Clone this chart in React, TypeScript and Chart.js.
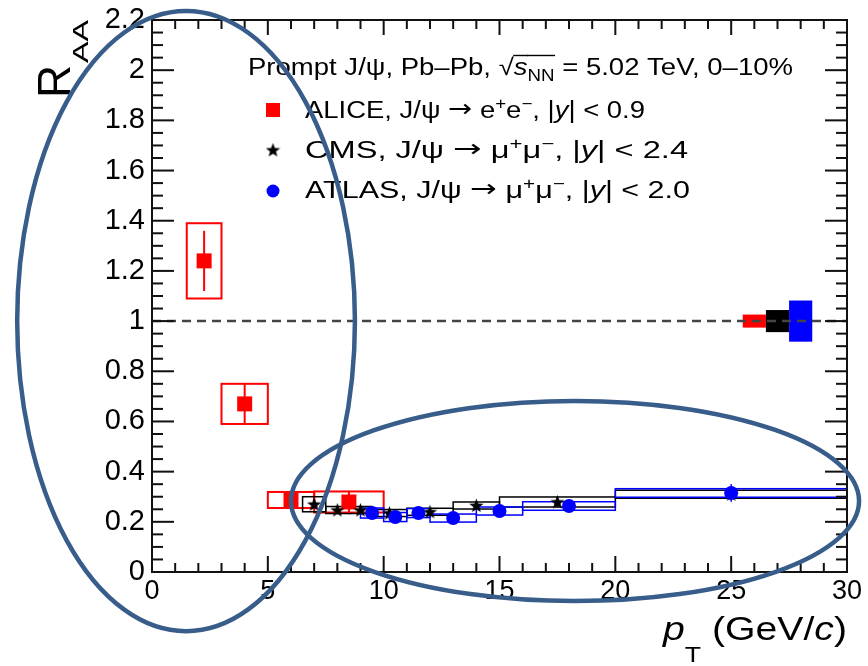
import React, { useEffect, useRef } from "react";
import { Chart, registerables } from "chart.js";

Chart.register(...registerables);

const FONT = '"Liberation Sans", Arial, Helvetica, sans-serif';

// ---------------- data ----------------
// ALICE, J/psi -> e+e-, |y| < 0.9
const aliceX = [2.25, 4.0, 6.0, 8.5];
const aliceY = [1.24, 0.67, 0.287, 0.279];
const aliceStat = [0.12, 0.08, 0.015, 0.045];
const aliceBinLo = [1.5, 3, 5, 7];
const aliceBinHi = [3, 5, 7, 10];
const aliceSys = [0.15, 0.08, 0.032, 0.042];

// CMS, J/psi -> mu+mu-, |y| < 2.4
const cmsX = [7, 8, 9, 10.25, 12, 14, 17.5, 25];
const cmsY = [0.27, 0.247, 0.247, 0.235, 0.24, 0.265, 0.279, 0.31];
const cmsStat = [0.012, 0.01, 0.01, 0.01, 0.01, 0.015, 0.022, 0.02];
const cmsBinLo = [6.5, 7.5, 8.5, 9.5, 11, 13, 15, 20];
const cmsBinHi = [7.5, 8.5, 9.5, 11, 13, 15, 20, 30];
const cmsSys = [0.03, 0.014, 0.014, 0.014, 0.014, 0.014, 0.02, 0.016];

// ATLAS, J/psi -> mu+mu-, |y| < 2.0
const atlasX = [9.5, 10.5, 11.5, 13, 15, 18, 25];
const atlasY = [0.235, 0.219, 0.235, 0.215, 0.243, 0.263, 0.315];
const atlasStat = [0.012, 0.01, 0.01, 0.01, 0.012, 0.015, 0.035];
const atlasBinLo = [9, 10, 11, 12, 14, 16, 20];
const atlasBinHi = [10, 11, 12, 14, 16, 20, 30];
const atlasSys = [0.02, 0.018, 0.018, 0.016, 0.016, 0.017, 0.017];

// global (normalisation) uncertainties around unity
const globalLo = [25.5, 26.5, 27.5];
const globalHi = [26.5, 27.5, 28.5];
const globalHalf = [0.026, 0.044, 0.082];
const globalColors = ["#ff0000", "#000000", "#0000ff"];

// reference line at R_AA = 1
const refLineX = [0, 30];
const refLineY = [1, 1];

// axes
const xTicks = [0, 5, 10, 15, 20, 25, 30];
const xTickLabels = ["0", "5", "10", "15", "20", "25", "30"];
const yTicks = [0, 0.2, 0.4, 0.6, 0.8, 1.0, 1.2, 1.4, 1.6, 1.8, 2.0, 2.2];
const yTickLabels = ["0", "0.2", "0.4", "0.6", "0.8", "1", "1.2", "1.4", "1.6", "1.8", "2", "2.2"];

// annotation ellipses (data coordinates: centre, half-axes)
const ellipseCx = [1.47, 18.26];
const ellipseCy = [1.0, 0.283];
const ellipseRx = [7.29, 12.26];
const ellipseRy = [1.236, 0.399];

// ---------------- helpers ----------------
type Seg = { t: string; it?: boolean; sub?: boolean; sup?: boolean; bar?: boolean; fam?: string; k?: number; dy?: number };

function segFont(s: Seg, size: number) {
  let sz = s.sub || s.sup ? size * 0.68 : size;
  if (s.k) sz *= s.k;
  return `${s.it ? "italic " : ""}${sz}px ${s.fam ?? FONT}`;
}

function measureRich(ctx: CanvasRenderingContext2D, segs: Seg[], size: number) {
  let w = 0;
  for (const s of segs) {
    ctx.font = segFont(s, size);
    w += ctx.measureText(s.t).width;
  }
  return w;
}

function drawRich(
  ctx: CanvasRenderingContext2D,
  segs: Seg[],
  x: number,
  y: number,
  size: number,
  opts: { align?: "left" | "right"; width?: number; subDy?: number; supDy?: number } = {}
) {
  const nat = measureRich(ctx, segs, size);
  const sx = opts.width ? opts.width / nat : 1;
  const total = nat * sx;
  const x0 = opts.align === "right" ? x - total : x;
  ctx.save();
  ctx.translate(x0, y);
  ctx.scale(sx, 1);
  ctx.textAlign = "left";
  ctx.textBaseline = "alphabetic";
  let cx = 0;
  for (const s of segs) {
    ctx.font = segFont(s, size);
    const w = ctx.measureText(s.t).width;
    let dy = s.sub ? opts.subDy ?? size * 0.3 : s.sup ? -(opts.supDy ?? size * 0.4) : 0;
    if (s.dy) dy += s.dy;
    ctx.fillText(s.t, cx, dy);
    if (s.bar) ctx.fillRect(cx - 0.5, -size * 0.86, w + 1, 1.4);
    cx += w;
  }
  ctx.restore();
}

function makeStar(size: number, color: string) {
  const c = document.createElement("canvas");
  c.width = size;
  c.height = size;
  const g = c.getContext("2d")!;
  g.fillStyle = color;
  g.beginPath();
  const cx = size / 2;
  const cy = size / 2 + 0.5;
  const R = size / 2;
  const r = R * 0.42;
  for (let i = 0; i < 10; i++) {
    const a = -Math.PI / 2 + (i * Math.PI) / 5;
    const rad = i % 2 === 0 ? R : r;
    g.lineTo(cx + rad * Math.cos(a), cy + rad * Math.sin(a));
  }
  g.closePath();
  g.fill();
  return c;
}

function subdivide(major: number[], n: number) {
  const out: { v: number; major: boolean }[] = [];
  for (let i = 0; i < major.length - 1; i++) {
    for (let k = 0; k < n; k++) {
      out.push({ v: major[i] + ((major[i + 1] - major[i]) * k) / n, major: k === 0 });
    }
  }
  out.push({ v: major[major.length - 1], major: true });
  return out;
}

const series = [
  { x: aliceX, y: aliceY, stat: aliceStat, lo: aliceBinLo, hi: aliceBinHi, sys: aliceSys, color: "#ff0000", lw: 2 },
  { x: cmsX, y: cmsY, stat: cmsStat, lo: cmsBinLo, hi: cmsBinHi, sys: cmsSys, color: "#000000", lw: 1.5 },
  { x: atlasX, y: atlasY, stat: atlasStat, lo: atlasBinLo, hi: atlasBinHi, sys: atlasSys, color: "#0000ff", lw: 1.5 },
];

const ARROW: Seg = { t: "→", fam: '"DejaVu Sans", sans-serif', k: 1.05, dy: -1 };

export default function App() {
  const ref = useRef<HTMLCanvasElement>(null);

  useEffect(() => {
    const canvas = ref.current!;
    const star = makeStar(15, "#000000");
    const xMinor = subdivide(xTicks, 5);
    const yMinor = subdivide(yTicks, 4);

    const decor = {
      id: "rootDecor",
      beforeDatasetsDraw(chart: any) {
        const ctx: CanvasRenderingContext2D = chart.ctx;
        const xs = chart.scales.x;
        const ys = chart.scales.y;
        const ca = chart.chartArea;
        ctx.save();
        ctx.beginPath();
        ctx.rect(ca.left, ca.top, ca.right - ca.left, ca.bottom - ca.top);
        ctx.clip();
        // global uncertainty boxes
        for (let i = 0; i < globalLo.length; i++) {
          const x1 = xs.getPixelForValue(globalLo[i]);
          const x2 = xs.getPixelForValue(globalHi[i]);
          const y1 = ys.getPixelForValue(1 + globalHalf[i]);
          const y2 = ys.getPixelForValue(1 - globalHalf[i]);
          ctx.fillStyle = globalColors[i];
          ctx.fillRect(x1, y1, x2 - x1, y2 - y1);
        }
        // systematic boxes
        for (const s of series) {
          ctx.strokeStyle = s.color;
          ctx.lineWidth = s.lw;
          for (let i = 0; i < s.x.length; i++) {
            const x1 = xs.getPixelForValue(s.lo[i]);
            const x2 = xs.getPixelForValue(s.hi[i]);
            const y1 = ys.getPixelForValue(s.y[i] + s.sys[i]);
            const y2 = ys.getPixelForValue(s.y[i] - s.sys[i]);
            ctx.strokeRect(x1, y1, x2 - x1, y2 - y1);
          }
        }
        // statistical error bars
        for (const s of series) {
          ctx.fillStyle = s.color;
          for (let i = 0; i < s.x.length; i++) {
            const px = xs.getPixelForValue(s.x[i]);
            const yt = ys.getPixelForValue(s.y[i] + s.stat[i]);
            const yb = ys.getPixelForValue(s.y[i] - s.stat[i]);
            ctx.fillRect(px - s.lw / 2, yt, s.lw, yb - yt);
          }
        }
        ctx.restore();
      },
      afterDraw(chart: any) {
        const ctx: CanvasRenderingContext2D = chart.ctx;
        const xs = chart.scales.x;
        const ys = chart.scales.y;
        const ca = chart.chartArea;
        ctx.save();

        // ROOT-style inward ticks on all four sides
        ctx.fillStyle = "#111111";
        for (const t of xMinor) {
          const px = xs.getPixelForValue(t.v);
          const lb = t.major ? 16 : 9;
          const lt = t.major ? 15 : 9;
          ctx.fillRect(px - 1, ca.bottom - lb, 2, lb);
          ctx.fillRect(px - 1, ca.top, 2, lt);
        }
        for (const t of yMinor) {
          const py = ys.getPixelForValue(t.v);
          const l = t.major ? 22 : 11;
          ctx.fillRect(ca.left, py - 1, l, 2);
          ctx.fillRect(ca.right - l, py - 1, l, 2);
        }
        // frame
        ctx.strokeStyle = "#111111";
        ctx.lineWidth = 2;
        ctx.strokeRect(ca.left, ca.top, ca.right - ca.left, ca.bottom - ca.top);

        ctx.fillStyle = "#000000";
        // y axis title R_AA (rotated, top aligned)
        ctx.save();
        ctx.translate(70, 98);
        ctx.rotate(-Math.PI / 2);
        ctx.font = `46px ${FONT}`;
        ctx.textBaseline = "alphabetic";
        ctx.textAlign = "left";
        ctx.fillText("R", 0, 0);
        ctx.font = `22px ${FONT}`;
        const aaW = ctx.measureText("AA").width;
        ctx.translate(35, 18);
        ctx.scale(43 / aaW, 1);
        ctx.fillText("AA", 0, 0);
        ctx.restore();

        // x axis title p_T (GeV/c)
        drawRich(
          ctx,
          [{ t: "p", it: true }, { t: "T", sub: true }, { t: " (GeV/" }, { t: "c", it: true }, { t: ")" }],
          847,
          640,
          33,
          { align: "right", width: 184, subDy: 22 }
        );

        // legend header
        drawRich(
          ctx,
          [
            { t: "Prompt J/ψ, Pb–Pb, " },
            { t: "√" },
            { t: "s", it: true, bar: true },
            { t: "NN", sub: true, bar: true },
            { t: " = 5.02 TeV, 0–10%" },
          ],
          248,
          75,
          23.5,
          { width: 545, subDy: 6 }
        );

        // legend entries
        const entries: { segs: Seg[]; y: number; w: number }[] = [
          {
            segs: [
              { t: "ALICE, J/ψ " },
              ARROW,
              { t: " e" },
              { t: "+", sup: true },
              { t: "e" },
              { t: "−", sup: true },
              { t: ", |" },
              { t: "y", it: true },
              { t: "| < 0.9" },
            ],
            y: 118,
            w: 340,
          },
          {
            segs: [
              { t: "CMS, J/ψ " },
              ARROW,
              { t: " μ" },
              { t: "+", sup: true },
              { t: "μ" },
              { t: "−", sup: true },
              { t: ", |" },
              { t: "y", it: true },
              { t: "| < 2.4" },
            ],
            y: 158,
            w: 383,
          },
          {
            segs: [
              { t: "ATLAS, J/ψ " },
              ARROW,
              { t: " μ" },
              { t: "+", sup: true },
              { t: "μ" },
              { t: "−", sup: true },
              { t: ", |" },
              { t: "y", it: true },
              { t: "| < 2.0" },
            ],
            y: 198,
            w: 385,
          },
        ];
        for (const e of entries) drawRich(ctx, e.segs, 305, e.y, 23.5, { width: e.w, supDy: 9 });

        // legend symbols
        ctx.fillStyle = "#ff0000";
        ctx.fillRect(266, 103, 14, 14);
        ctx.drawImage(star, 273 - 7.5, 150 - 7.5);
        ctx.fillStyle = "#0000ff";
        ctx.beginPath();
        ctx.arc(273, 191, 6.5, 0, Math.PI * 2);
        ctx.fill();

        // annotation ellipses
        ctx.strokeStyle = "#385d8a";
        ctx.lineWidth = 4.5;
        for (let i = 0; i < ellipseCx.length; i++) {
          const cx = xs.getPixelForValue(ellipseCx[i]);
          const cy = ys.getPixelForValue(ellipseCy[i]);
          const rx = xs.getPixelForValue(ellipseCx[i] + ellipseRx[i]) - cx;
          const ry = cy - ys.getPixelForValue(ellipseCy[i] + ellipseRy[i]);
          ctx.beginPath();
          ctx.ellipse(cx, cy, rx, ry, 0, 0, Math.PI * 2);
          ctx.stroke();
        }
        ctx.restore();
      },
    };

    const chart = new Chart(canvas, {
      type: "scatter",
      data: {
        datasets: [
          {
            label: "ALICE",
            data: aliceX.map((x, i) => ({ x, y: aliceY[i] })),
            pointStyle: "rect",
            pointRadius: 10.6,
            backgroundColor: "#ff0000",
            borderColor: "#ff0000",
            borderWidth: 0,
            order: 3,
          },
          {
            label: "CMS",
            data: cmsX.map((x, i) => ({ x, y: cmsY[i] })),
            pointStyle: star as any,
            pointRadius: 7.5,
            backgroundColor: "#000000",
            borderColor: "#000000",
            borderWidth: 0,
            order: 2,
          },
          {
            label: "ATLAS",
            data: atlasX.map((x, i) => ({ x, y: atlasY[i] })),
            pointStyle: "circle",
            pointRadius: 7,
            backgroundColor: "#0000ff",
            borderColor: "#0000ff",
            borderWidth: 0,
            order: 1,
          },
          {
            label: "unity",
            data: refLineX.map((x, i) => ({ x, y: refLineY[i] })),
            showLine: true,
            pointRadius: 0,
            borderColor: "#444444",
            borderWidth: 2.5,
            borderDash: [9, 6],
            order: 4,
          } as any,
        ],
      },
      options: {
        animation: false,
        responsive: false,
        devicePixelRatio: 1,
        layout: { padding: { left: 0, right: 21, top: 20, bottom: 0 } },
        plugins: { legend: { display: false }, tooltip: { enabled: false } },
        scales: {
          x: {
            type: "linear",
            min: 0,
            max: 30,
            grid: { display: false, drawTicks: false },
            border: { display: false },
            ticks: {
              font: { family: FONT, size: 27 },
              color: "#000000",
              padding: 3,
              autoSkip: false,
              maxRotation: 0,
              callback: (_v: any, i: number) => xTickLabels[i],
            },
            afterBuildTicks: (s: any) => {
              s.ticks = xTicks.map((v) => ({ value: v }));
            },
            afterFit: (s: any) => {
              s.height = 94;
              s.paddingLeft = 0;
              s.paddingRight = 0;
            },
          },
          y: {
            type: "linear",
            min: 0,
            max: 2.2,
            grid: { display: false, drawTicks: false },
            border: { display: false },
            ticks: {
              font: { family: FONT, size: 29 },
              color: "#000000",
              padding: 7,
              autoSkip: false,
              callback: (_v: any, i: number) => yTickLabels[i],
            },
            afterBuildTicks: (s: any) => {
              s.ticks = yTicks.map((v) => ({ value: v }));
            },
            afterFit: (s: any) => {
              s.width = 152;
              s.paddingTop = 0;
              s.paddingBottom = 0;
            },
          },
        },
      } as any,
      plugins: [decor],
    });

    return () => chart.destroy();
  }, []);

  return (
    <div style={{ position: "absolute", left: 0, top: 0, width: 868, height: 666, background: "#ffffff" }}>
      <canvas ref={ref} width={868} height={666} style={{ display: "block" }} />
    </div>
  );
}
